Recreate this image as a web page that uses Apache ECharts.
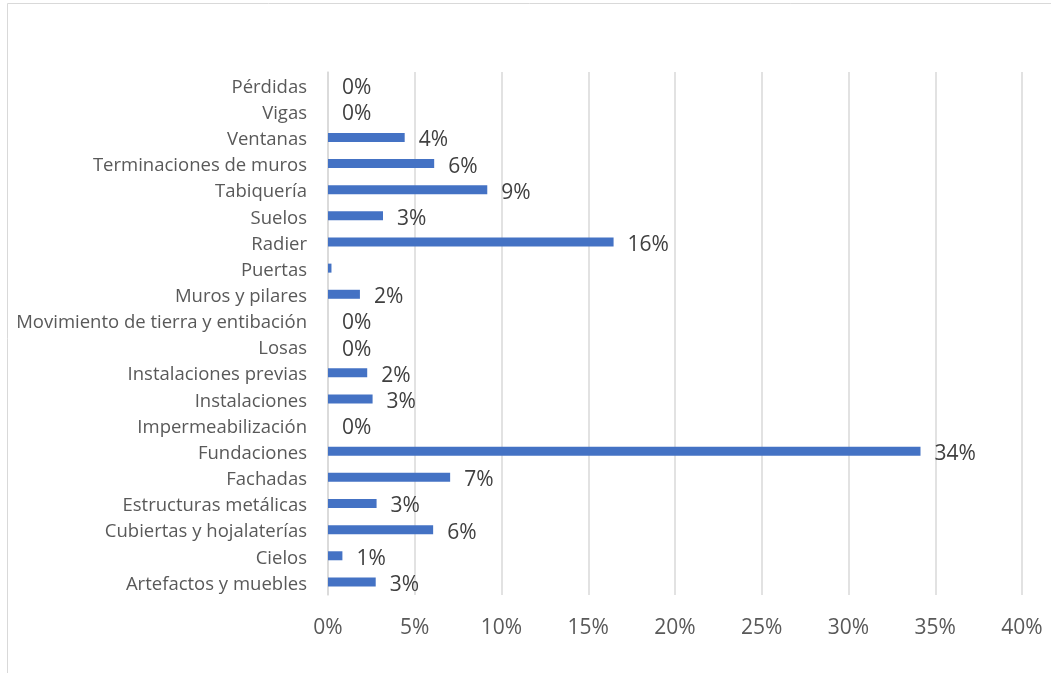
<!DOCTYPE html>
<html>
<head>
<meta charset="utf-8">
<script src="https://cdn.jsdelivr.net/npm/echarts@6/dist/echarts.min.js"></script>
<style>
html,body{margin:0;padding:0;background:#fff;}
#chart{width:1051px;height:673px;}
</style>
</head>
<body>
<div id="chart"></div>
<script>
// categorias, de abajo hacia arriba
var categorias = ['Artefactos y muebles','Cielos','Cubiertas y hojalaterías','Estructuras metálicas','Fachadas',
    'Fundaciones','Impermeabilización','Instalaciones','Instalaciones previas','Losas',
    'Movimiento de tierra y entibación','Muros y pilares','Puertas','Radier','Suelos',
    'Tabiquería','Terminaciones de muros','Ventanas','Vigas','Pérdidas'];
// porcentaje de cada partida
var valores = [2.75,0.83,6.06,2.8,7.04,34.15,0,2.57,2.26,0,0,1.84,0.2,16.46,3.17,9.18,6.12,4.42,0,0];
// partidas sin etiqueta de valor
var sinEtiqueta = ['Puertas'];
var ticksX = [0,5,10,15,20,25,30,35,40];

var chart = echarts.init(document.getElementById('chart'));
var datos = [];
for (var i = 0; i < valores.length; i++) {
    var d = {value: valores[i]};
    if (sinEtiqueta.indexOf(categorias[i]) >= 0) {
        d.label = {show: false};
    }
    datos.push(d);
}
var fuente = '"Open Sans", sans-serif';
chart.setOption({
    animation: false,
    graphic: [{
        type: 'rect',
        shape: {x: 7.5, y: 3.5, width: 1100, height: 720},
        style: {fill: 'none', stroke: '#d9d9d9', lineWidth: 1},
        silent: true
    }],
    grid: {left: 328, right: 29, top: 72, bottom: 78},
    xAxis: {
        type: 'value',
        min: ticksX[0],
        max: ticksX[ticksX.length - 1],
        interval: 5,
        axisLine: {show: false},
        axisTick: {show: false},
        splitLine: {lineStyle: {color: '#d9d9d9', width: 1.5}},
        axisLabel: {
            color: '#595959', fontSize: 21, fontFamily: fuente, margin: 23,
            formatter: function (v) { return v + '%'; }
        }
    },
    yAxis: {
        type: 'category',
        data: categorias,
        axisLine: {lineStyle: {color: '#d9d9d9', width: 1.5}},
        axisTick: {show: false},
        axisLabel: {
            margin: 21,
            formatter: function (v) { return '{c|' + v + '}'; },
            rich: {c: {color: '#595959', fontSize: 18.5, fontFamily: fuente, padding: [5, 0, 0, 0]}}
        }
    },
    series: [{
        type: 'bar',
        data: datos,
        barWidth: 9,
        itemStyle: {color: '#4472c4'},
        label: {
            show: true,
            position: 'right',
            distance: 14,
            offset: [0, 3],
            color: '#404040',
            fontSize: 21,
            fontFamily: fuente,
            formatter: function (p) { return Math.round(p.value) + '%'; }
        }
    }]
});
</script>
</body>
</html>
